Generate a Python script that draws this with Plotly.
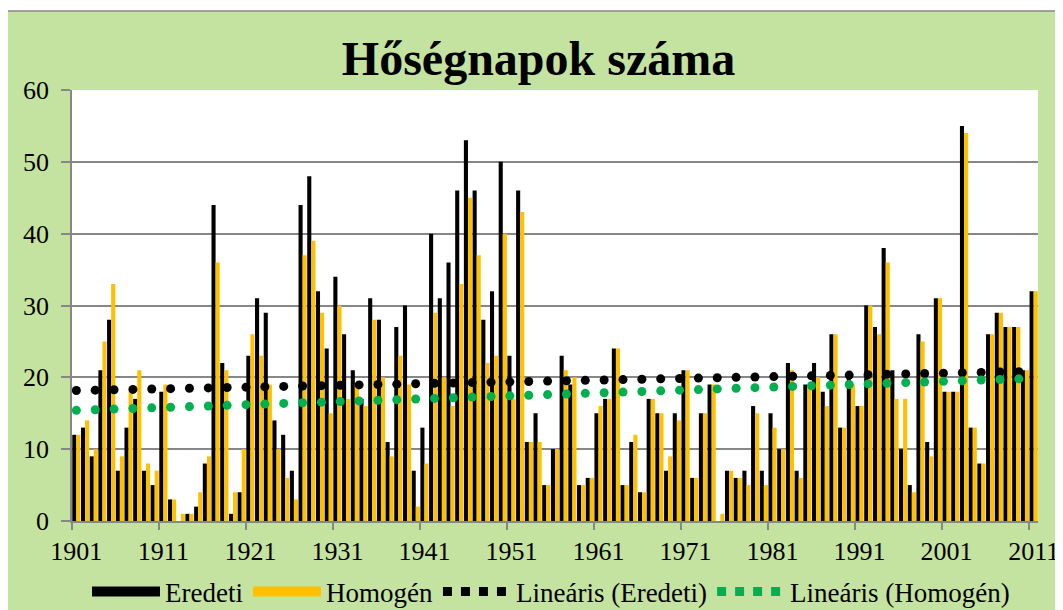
import numpy as np
import plotly.graph_objects as go

years = list(range(1901, 2012))

eredeti = [12, 13, 9, 21, 28, 7, 13, 17, 7, 5,
           18, 3, 0, 1, 2, 8, 44, 22, 1, 4,
           23, 31, 29, 14, 12, 7, 44, 48, 32, 24,
           34, 26, 21, 17, 31, 28, 11, 27, 30, 7,
           13, 40, 31, 36, 46, 53, 46, 28, 32, 50,
           23, 46, 11, 15, 5, 10, 23, 19, 5, 6,
           15, 17, 24, 5, 11, 4, 17, 15, 7, 15,
           21, 6, 15, 19, 0, 7, 6, 7, 16, 7,
           15, 10, 22, 7, 19, 22, 18, 26, 13, 20,
           16, 30, 27, 38, 21, 10, 5, 26, 11, 31,
           18, 18, 55, 13, 8, 26, 29, 27, 27, 21,
           32]

homogen = [12, 14, 10, 25, 33, 9, 18, 21, 8, 7,
           19, 3, 1, 1, 4, 9, 36, 21, 4, 10,
           26, 23, 19, 10, 6, 3, 37, 39, 29, 15,
           30, 17, 19, 16, 28, 20, 9, 23, 19, 2,
           8, 29, 20, 16, 33, 45, 37, 22, 23, 40,
           17, 43, 11, 11, 5, 10, 21, 20, 5, 6,
           16, 17, 24, 5, 12, 4, 17, 15, 9, 14,
           21, 6, 15, 19, 1, 7, 6, 5, 15, 5,
           13, 10, 21, 6, 19, 20, 16, 26, 13, 19,
           16, 30, 26, 36, 17, 17, 4, 25, 9, 31,
           18, 18, 54, 13, 8, 26, 29, 27, 27, 21,
           32]

label_years = [1901, 1911, 1921, 1931, 1941, 1951, 1961, 1971, 1981, 1991, 2001, 2011]

BLACK = "#000000"
GOLD = "#FFC000"
GREEN = "#00B050"
GRID = "#878787"
BG = "#C5E3A0"
FONT = "Liberation Serif, Times New Roman, serif"

fig = go.Figure()
fig.add_bar(x=years, y=eredeti, name="Eredeti", marker=dict(color=BLACK, line=dict(width=0)),
            showlegend=False)
fig.add_bar(x=years, y=homogen, name="Homogén", marker=dict(color=GOLD, line=dict(width=0)),
            showlegend=False)

# linear trendlines (least squares fit of each series), drawn as round dots
yrs = np.array(years, dtype=float)
dot_x = np.arange(years[0], years[-1] + 1e-6, 2.166)
for vals, color, name in [(eredeti, BLACK, "Lineáris (Eredeti)"),
                          (homogen, GREEN, "Lineáris (Homogén)")]:
    slope, icpt = np.polyfit(yrs, np.array(vals, dtype=float), 1)
    fig.add_scatter(x=dot_x, y=slope * dot_x + icpt, mode="markers",
                    marker=dict(size=9, color=color, line=dict(width=0)),
                    name=name, showlegend=False, hoverinfo="skip")

# legend entries
fig.add_scatter(x=[None], y=[None], mode="lines", name="Eredeti",
                line=dict(color=BLACK, width=15))
fig.add_scatter(x=[None], y=[None], mode="lines", name="Homogén",
                line=dict(color=GOLD, width=15))
fig.add_scatter(x=[None], y=[None], mode="lines", name="Lineáris (Eredeti)",
                line=dict(color=BLACK, width=9, dash="9px,9px"))
fig.add_scatter(x=[None], y=[None], mode="lines", name="Lineáris (Homogén)",
                line=dict(color=GREEN, width=9, dash="9px,9px"))

# the page body adds an 8px offset; figure coords = page coords - 8
OFF = 8
W, H = 1063 - OFF, 610 - OFF
L, R, T, B = 72 - OFF, 1038 - OFF, 90 - OFF, 521 - OFF
pw, ph = R - L, B - T

fig.update_layout(
    width=W, height=H,
    margin=dict(l=L, r=W - R, t=T, b=H - B, pad=0, autoexpand=False),
    paper_bgcolor="#FFFFFF", plot_bgcolor="#FFFFFF",
    barmode="group", bargap=0.06, bargroupgap=0,
    font=dict(family=FONT, size=26, color="#000000"),
    title=dict(text="Hőségnapok száma", x=(538.5 - OFF) / W, xanchor="center",
               y=1 - 50 / H, yanchor="middle",
               font=dict(family=FONT, size=48, color="#000000", weight="bold")),
    xaxis=dict(range=[1900.5, 2011.5], tickmode="array", tickvals=label_years,
               ticktext=[str(y) for y in label_years], ticks="",
               showline=True, linecolor=GRID, linewidth=1.5, showgrid=False,
               zeroline=False, ticklabelstandoff=6, automargin=False,
               tickfont=dict(family=FONT, size=26, color="#000000"),
               minor=dict(tickmode="array", tickvals=[y - 0.5 for y in label_years],
                          ticks="outside", ticklen=7, tickwidth=1.5, tickcolor=GRID,
                          showgrid=False)),
    yaxis=dict(range=[0, 60], tickmode="linear", tick0=0, dtick=10,
               showgrid=True, gridcolor=GRID, gridwidth=1.5,
               showline=True, linecolor=GRID, linewidth=1.5,
               ticks="outside", ticklen=9, tickwidth=1.5, tickcolor=GRID,
               zeroline=False, ticklabelstandoff=7, automargin=False,
               tickfont=dict(family=FONT, size=26, color="#000000")),
    legend=dict(orientation="h", x=(551 - L - OFF) / pw, xanchor="center",
                y=(B - (592 - OFF)) / ph, yanchor="middle",
                bgcolor="rgba(0,0,0,0)", itemwidth=68,
                font=dict(family=FONT, size=27, color="#000000")),
    shapes=[
        dict(type="rect", xref="paper", yref="paper",
             x0=(-1 - L) / pw, x1=1.2, y0=-0.5, y1=(B - 3) / ph,
             fillcolor=BG, line=dict(color=GRID, width=1.5), layer="below"),
        dict(type="rect", xref="paper", yref="paper", x0=0, x1=1, y0=0, y1=1,
             fillcolor="#FFFFFF", line=dict(width=0), layer="below"),
    ],
)

fig.write_html("out.html")
